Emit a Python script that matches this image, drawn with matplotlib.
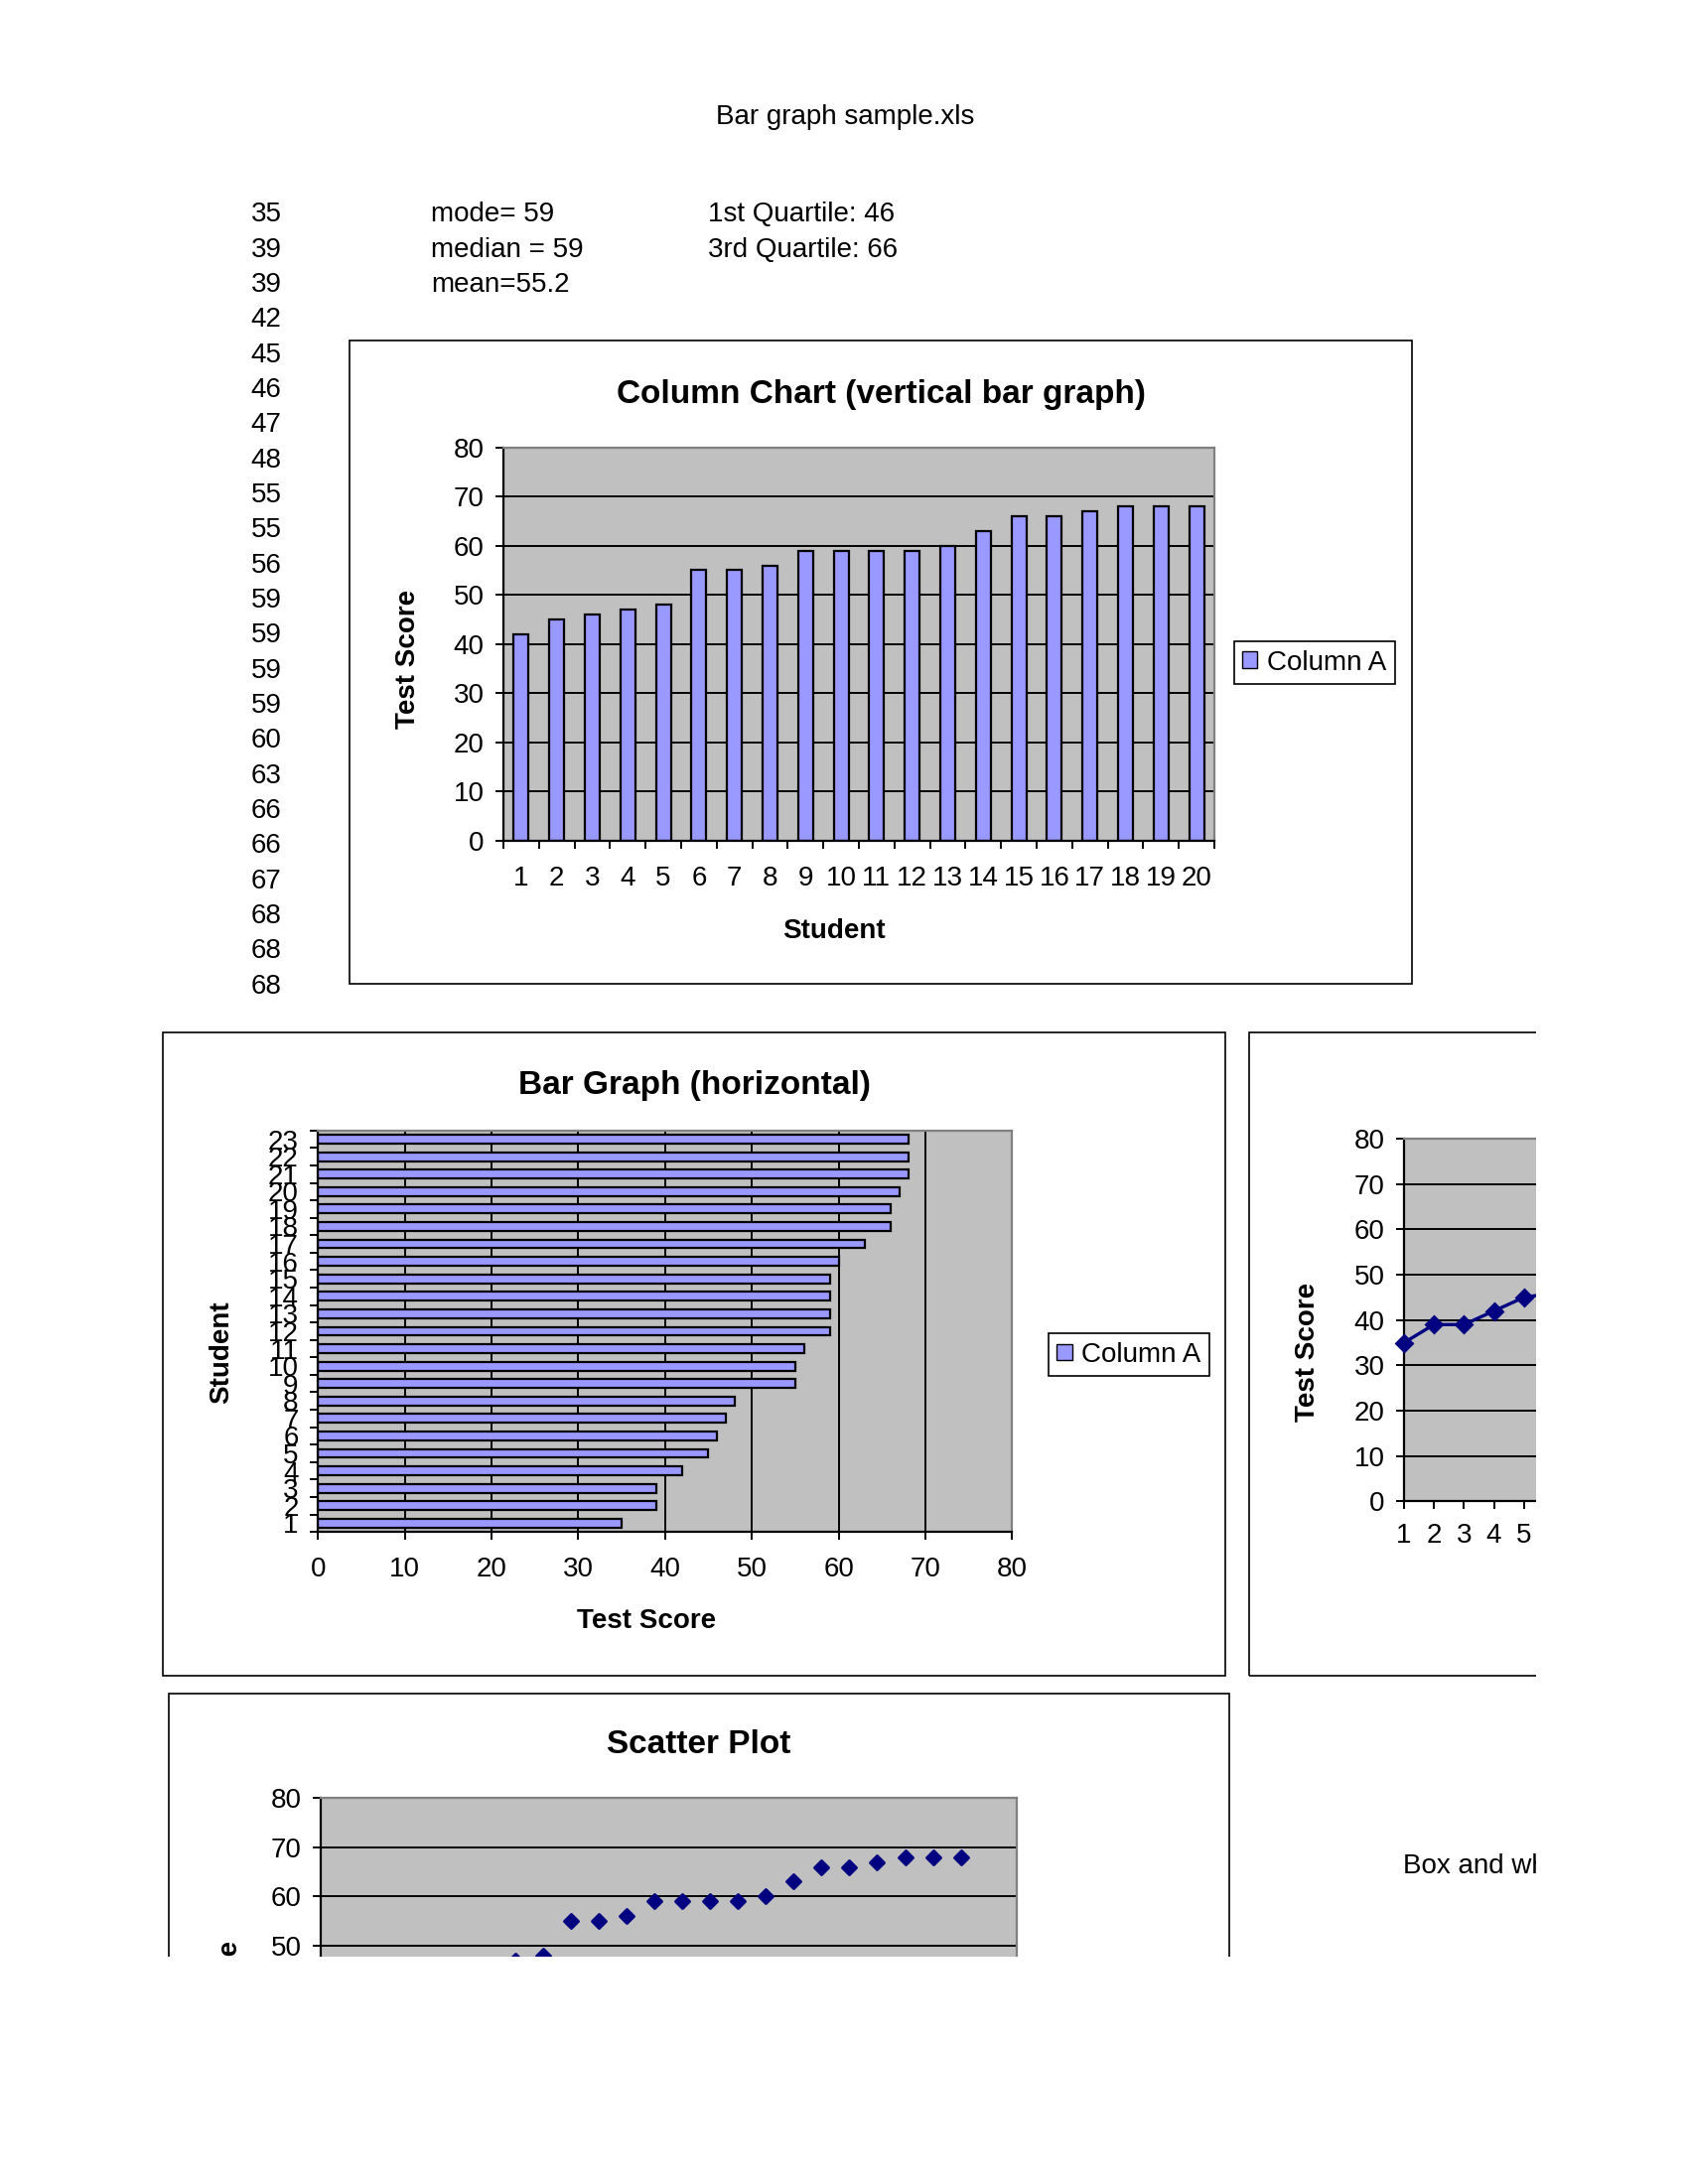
import matplotlib.pyplot as plt
from matplotlib.patches import Rectangle, Patch
import numpy as np

plt.rcParams['font.family'] = ['Liberation Sans', 'DejaVu Sans']

# worksheet data
scores = [35, 39, 39, 42, 45, 46, 47, 48, 55, 55, 56, 59, 59, 59, 59, 60, 63, 66, 66, 67, 68, 68, 68]
students = list(range(1, len(scores) + 1))
stats_left = ['mode= 59', 'median = 59', 'mean=55.2']
stats_right = ['1st Quartile: 46', '3rd Quartile: 66']
# the column chart only uses the last 20 rows
column_scores = scores[3:]
column_students = list(range(1, len(column_scores) + 1))
score_ticks = list(range(0, 90, 10))
series_name = 'Column A'

bar_color = '#9999FF'
line_color = '#000080'
area_color = '#C0C0C0'

# page layout is measured on a ~1211 x 1567 grid
W, H = 1210.7, 1566.8
def fx(x):
    return x / W
def fy(y):
    return 1 - y / H
def ft(y):
    # text boxes sit a little high with va='center'
    return fy(y + 2)
def rect(x0, y0, x1, y1):
    return [x0 / W, 1 - y1 / H, (x1 - x0) / W, (y1 - y0) / H]

fig = plt.figure(figsize=(8.5, 11), dpi=200)

def style_area(ax):
    ax.set_facecolor(area_color)
    for s in ['top', 'right']:
        ax.spines[s].set_color('#808080')
        ax.spines[s].set_linewidth(0.8)
    for s in ['left', 'bottom']:
        ax.spines[s].set_color('black')
        ax.spines[s].set_linewidth(0.8)
    ax.tick_params(which='both', direction='out', length=3, width=0.7, labelsize=10, pad=4)
    ax.set_axisbelow(True)

def box(x0, y0, x1, y1):
    fig.add_artist(Rectangle((fx(x0), fy(y1)), (x1 - x0) / W, (y1 - y0) / H, fill=False,
                             edgecolor='black', linewidth=0.6, transform=fig.transFigure))

def legend_at(x, y):
    h = [Patch(facecolor=bar_color, edgecolor='black', linewidth=0.5, label=series_name)]
    leg = fig.legend(handles=h, loc='center left', bbox_to_anchor=(fx(x), fy(y)),
                     bbox_transform=fig.transFigure, fontsize=10, fancybox=False, framealpha=1,
                     edgecolor='black', handlelength=0.55, handleheight=0.55, handletextpad=0.35,
                     borderpad=0.3, borderaxespad=0)
    leg.get_frame().set_linewidth(0.6)

# sheet text
fig.text(fx(606), ft(82), 'Bar graph sample.xls', ha='center', va='center', fontsize=10)
for i, v in enumerate(scores):
    fig.text(fx(202), ft(152 + 25.17 * i), str(v), ha='right', va='center', fontsize=10)
for i, t in enumerate(stats_left):
    fig.text(fx(309), ft(152 + 25.17 * i), t, ha='left', va='center', fontsize=10)
for i, t in enumerate(stats_right):
    fig.text(fx(508), ft(152 + 25.17 * i), t, ha='left', va='center', fontsize=10)

# column chart
box(251, 244, 1013, 706)
ax1 = fig.add_axes(rect(361, 321, 871, 603))
style_area(ax1)
ax1.bar(column_students, column_scores, width=0.42, color=bar_color, edgecolor='black', linewidth=0.8, zorder=2)
ax1.set_yticks(score_ticks)
ax1.yaxis.grid(True, color='black', linewidth=0.7)
ax1.set_xticks(np.arange(0.5, len(column_scores) + 1), labels=[])
ax1.set_xticks(column_students, labels=[str(s) for s in column_students], minor=True)
ax1.tick_params(axis='x', which='minor', length=0, pad=9)
ax1.set_xlim(0.5, len(column_scores) + 0.5)
ax1.set_ylim(0, 80)
fig.text(fx(632), ft(281), 'Column Chart (vertical bar graph)', ha='center', va='center', fontsize=12, fontweight='bold')
fig.text(fx(598), ft(666), 'Student', ha='center', va='center', fontsize=10, fontweight='bold')
fig.text(fx(293), fy(473), 'Test Score', ha='center', va='center', rotation=90, fontsize=10, fontweight='bold')
legend_at(885, 475.5)

# horizontal bar graph
box(117, 741, 879, 1202)
ax2 = fig.add_axes(rect(228, 811, 726, 1099))
style_area(ax2)
ax2.barh(students, scores, height=0.5, color=bar_color, edgecolor='black', linewidth=0.8, zorder=2)
ax2.set_xticks(score_ticks)
ax2.xaxis.grid(True, color='black', linewidth=0.7)
ax2.set_yticks(np.arange(0.5, len(scores) + 1), labels=[])
ax2.set_yticks(students, labels=[str(s) for s in students], minor=True)
ax2.tick_params(axis='y', which='minor', length=0, pad=7)
ax2.tick_params(axis='x', pad=6)
ax2.set_xlim(0, 80)
ax2.set_ylim(0.5, len(scores) + 0.5)
fig.text(fx(498), ft(777), 'Bar Graph (horizontal)', ha='center', va='center', fontsize=12, fontweight='bold')
fig.text(fx(464), ft(1161), 'Test Score', ha='center', va='center', fontsize=10, fontweight='bold')
fig.text(fx(159), fy(970), 'Student', ha='center', va='center', rotation=90, fontsize=10, fontweight='bold')
legend_at(752, 972)

# line chart, cut off by the page edge
box(896, 741, 1400, 1202)
ax3 = fig.add_axes(rect(1007, 817, 1102, 1077))
style_area(ax3)
ax3.spines['right'].set_visible(False)
ax3.plot(students, scores, color=line_color, linewidth=1.2, marker='D', markersize=4.2, clip_on=False, zorder=3)
ax3.set_yticks(score_ticks)
ax3.set_xticks(students)
ax3.yaxis.grid(True, color='black', linewidth=0.7)
ax3.tick_params(axis='x', pad=5)
ax3.set_xlim(1, 5.42)
ax3.set_ylim(0, 80)
fig.text(fx(938), fy(970), 'Test Score', ha='center', va='center', rotation=90, fontsize=10, fontweight='bold')

# scatter plot, cut off by the page bottom
box(121, 1215, 882, 1700)
ax4 = fig.add_axes(rect(230, 1290, 729, 1572))
style_area(ax4)
ax4.scatter(students, scores, marker='D', s=13, color=line_color, zorder=3)
ax4.set_yticks(score_ticks)
ax4.yaxis.grid(True, color='black', linewidth=0.7)
ax4.set_xlim(0, 25)
ax4.set_ylim(0, 80)
fig.text(fx(501), ft(1250), 'Scatter Plot', ha='center', va='center', fontsize=12, fontweight='bold')
fig.text(fx(165), fy(1442), 'Test Score', ha='center', va='center', rotation=90, fontsize=10, fontweight='bold')
fig.text(fx(1006), ft(1337), 'Box and whisker plot', ha='left', va='center', fontsize=10)

# printed page ends here
fig.add_artist(Rectangle((fx(1102), 0), 1 - fx(1102), 1, facecolor='white', edgecolor='none',
                         transform=fig.transFigure, zorder=50))
fig.add_artist(Rectangle((0, 0), 1, fy(1404), facecolor='white', edgecolor='none',
                         transform=fig.transFigure, zorder=50))

fig.savefig('out.png', dpi=200, facecolor='white')
